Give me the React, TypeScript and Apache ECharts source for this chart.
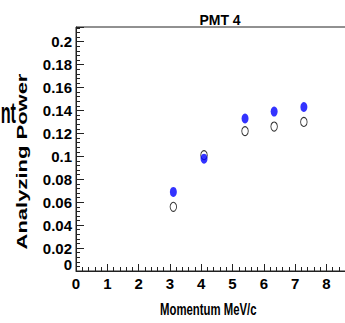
import React, { useEffect, useRef } from "react";
import * as echarts from "echarts";

// Beam momentum (MeV/c) for each measurement
const momentum = [3.11, 4.09, 5.4, 6.33, 7.28];
// Analyzing power, open-circle set
const powerOpen = [0.056, 0.101, 0.122, 0.126, 0.13];
// Analyzing power, filled blue set
const powerFilled = [0.069, 0.098, 0.133, 0.139, 0.143];

const plotTitle = "PMT 4";
const xTitle = "Momentum MeV/c";
const yTitle = "Analyzing Power";
const sideText = "nt";

const FONT = "'Liberation Sans', Arial, Helvetica, sans-serif";

export default function App() {
  const ref = useRef<HTMLDivElement>(null);

  useEffect(() => {
    if (!ref.current) return;
    const chart = echarts.init(ref.current, undefined, { renderer: "svg" });

    const openData = momentum.map((m, i) => [m, powerOpen[i]]);
    const filledData = momentum.map((m, i) => [m, powerFilled[i]]);

    chart.setOption({
      animation: false,
      backgroundColor: "#ffffff",
      grid: {
        left: 76,
        top: 27,
        right: -12.7,
        bottom: 52,
        show: true,
        borderColor: "#222",
        borderWidth: 1,
        containLabel: false,
        outerBoundsMode: "none",
      },
      xAxis: {
        type: "value",
        min: 0,
        max: 9,
        interval: 1,
        splitLine: { show: false },
        axisLine: { show: true, lineStyle: { color: "#222", width: 1 } },
        axisTick: { show: true, inside: true, length: 7, lineStyle: { color: "#222" } },
        minorTick: { show: true, splitNumber: 5, length: 4, lineStyle: { color: "#222" } },
        axisLabel: {
          color: "#000",
          fontFamily: FONT,
          fontWeight: "bold",
          fontSize: 15,
          margin: 5,
          showMaxLabel: false,
        },
      },
      yAxis: {
        type: "value",
        min: 0,
        max: 0.2128,
        interval: 0.02,
        splitLine: { show: false },
        axisLine: { show: true, lineStyle: { color: "#222", width: 1 } },
        axisTick: { show: true, inside: true, length: 8, lineStyle: { color: "#222" } },
        minorTick: { show: true, splitNumber: 5, length: 4, lineStyle: { color: "#222" } },
        axisLabel: {
          color: "#000",
          fontFamily: FONT,
          fontWeight: "bold",
          fontSize: 15,
          margin: 4,
          showMaxLabel: false,
          formatter: (v: number) => {
            if (Math.abs(v) < 1e-9) return "{z|0}";
            return String(Math.round(v * 100) / 100);
          },
          rich: {
            z: {
              color: "#000",
              fontFamily: FONT,
              fontWeight: "bold",
              fontSize: 15,
              padding: [0, 0, 14, 0],
            },
          },
        },
      },
      series: [
        {
          type: "scatter",
          data: openData,
          symbol: "circle",
          symbolSize: [6.5, 9],
          itemStyle: { color: "rgba(0,0,0,0)", borderColor: "#000", borderWidth: 1 },
          z: 2,
        },
        {
          type: "scatter",
          data: filledData,
          symbol: "circle",
          symbolSize: [7, 10],
          itemStyle: { color: "#0000ff" },
          z: 3,
        },
      ],
      graphic: [
        {
          type: "text",
          x: 220,
          y: 20,
          style: {
            text: plotTitle,
            fill: "#000",
            font: `bold 14px ${FONT}`,
            textAlign: "center",
            textVerticalAlign: "middle",
          },
        },
        {
          type: "text",
          x: 208.3,
          y: 309.5,
          scaleX: 0.71,
          style: {
            text: xTitle,
            fill: "#000",
            font: `bold 16px ${FONT}`,
            textAlign: "center",
            textVerticalAlign: "middle",
          },
        },
        {
          type: "text",
          x: 21.5,
          y: 161.5,
          rotation: Math.PI / 2,
          scaleY: 0.7,
          style: {
            text: yTitle,
            fill: "#000",
            font: `bold 22px ${FONT}`,
            textAlign: "center",
            textVerticalAlign: "middle",
          },
        },
        {
          type: "text",
          x: 16,
          y: 113,
          scaleX: 0.56,
          style: {
            text: sideText,
            fill: "#000",
            font: `bold 29px ${FONT}`,
            textAlign: "right",
            textVerticalAlign: "middle",
          },
        },
      ],
    });

    return () => chart.dispose();
  }, []);

  return (
    <div
      ref={ref}
      style={{ position: "absolute", left: 0, top: 0, width: 345, height: 323 }}
    />
  );
}
